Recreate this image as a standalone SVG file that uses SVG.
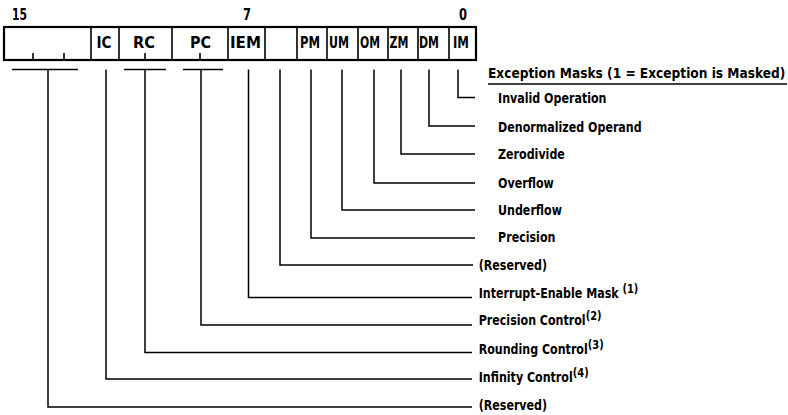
<svg xmlns="http://www.w3.org/2000/svg" width="788" height="415" viewBox="0 0 788 415">
<style>
text{font-family:"DejaVu Sans Condensed","Liberation Sans",sans-serif;font-weight:bold;fill:#000;font-size:14px}
.f{font-size:16px;text-anchor:middle}
.n{font-size:16px}
.reg{fill:none;stroke:#000;stroke-width:2.2}
.div{stroke:#000;stroke-width:1.6}
.c{fill:none;stroke:#000;stroke-width:1.5}
.sup{font-size:12.5px}
</style>
<rect width="788" height="415" fill="#fff"/>
<g id="bitnums">
<text class="n" x="12" y="20" textLength="15" lengthAdjust="spacingAndGlyphs">15</text>
<text class="n" x="243" y="20" textLength="8" lengthAdjust="spacingAndGlyphs">7</text>
<text class="n" x="459" y="20" textLength="8" lengthAdjust="spacingAndGlyphs">0</text>
</g>
<g id="register">
<rect class="reg" x="4" y="27" width="472" height="33"/>
<g id="f-reserved-hi"><line class="div" x1="33" y1="53" x2="33" y2="60"/><line class="div" x1="64" y1="53" x2="64" y2="60"/></g>
<g id="f-ic"><line class="div" x1="91" y1="27" x2="91" y2="60"/><text class="f" x="104" y="48" textLength="15" lengthAdjust="spacingAndGlyphs">IC</text></g>
<g id="f-rc"><line class="div" x1="119" y1="27" x2="119" y2="60"/><line class="div" x1="145" y1="53" x2="145" y2="60"/><text class="f" x="144" y="48" textLength="22" lengthAdjust="spacingAndGlyphs">RC</text></g>
<g id="f-pc"><line class="div" x1="172" y1="27" x2="172" y2="60"/><line class="div" x1="200" y1="53" x2="200" y2="60"/><text class="f" x="200.5" y="48" textLength="21" lengthAdjust="spacingAndGlyphs">PC</text></g>
<g id="f-iem"><line class="div" x1="228" y1="27" x2="228" y2="60"/><text class="f" x="245.5" y="48" textLength="31" lengthAdjust="spacingAndGlyphs">IEM</text></g>
<g id="f-reserved-6"><line class="div" x1="265" y1="27" x2="265" y2="60"/></g>
<g id="f-pm"><line class="div" x1="297" y1="27" x2="297" y2="60"/><text class="f" x="310" y="48" textLength="20" lengthAdjust="spacingAndGlyphs">PM</text></g>
<g id="f-um"><line class="div" x1="327" y1="27" x2="327" y2="60"/><text class="f" x="339" y="48" textLength="20" lengthAdjust="spacingAndGlyphs">UM</text></g>
<g id="f-om"><line class="div" x1="358" y1="27" x2="358" y2="60"/><text class="f" x="370" y="48" textLength="20" lengthAdjust="spacingAndGlyphs">OM</text></g>
<g id="f-zm"><line class="div" x1="388" y1="27" x2="388" y2="60"/><text class="f" x="399" y="48" textLength="19" lengthAdjust="spacingAndGlyphs">ZM</text></g>
<g id="f-dm"><line class="div" x1="418" y1="27" x2="418" y2="60"/><text class="f" x="429" y="48" textLength="20" lengthAdjust="spacingAndGlyphs">DM</text></g>
<g id="f-im"><line class="div" x1="449" y1="27" x2="449" y2="60"/><text class="f" x="461" y="48" textLength="16" lengthAdjust="spacingAndGlyphs">IM</text></g>
</g>
<g id="connectors">
<path class="c" d="M12 69.5H78M48 69.5V407H472"/>
<path class="c" d="M106 69.5V379H472"/>
<path class="c" d="M124 69.5H166M145 69.5V352.5H472"/>
<path class="c" d="M183 69.5H223M201 69.5V325H472"/>
<path class="c" d="M248.5 69.5V297.5H472"/>
<path class="c" d="M280 69.5V265H473"/>
<path class="c" d="M311 69.5V238H475"/>
<path class="c" d="M342 69.5V210H475"/>
<path class="c" d="M374 69.5V183H475"/>
<path class="c" d="M401 69.5V154H475"/>
<path class="c" d="M429 69.5V126H475"/>
<path class="c" d="M458 69.5V97.5H475"/>
<path class="c" d="M488 84H787"/>
</g>
<g id="labels" transform="scale(0.88 1)">
<text x="554.5" y="78" textLength="338" lengthAdjust="spacingAndGlyphs">Exception Masks (1 = Exception is Masked)</text>
<text x="566" y="103">Invalid Operation</text>
<text x="566" y="132">Denormalized Operand</text>
<text x="566" y="159">Zerodivide</text>
<text x="566" y="188">Overflow</text>
<text x="566" y="215">Underflow</text>
<text x="566" y="242">Precision</text>
<text x="544" y="270">(Reserved)</text>
<text x="544" y="298">Interrupt-Enable Mask <tspan class="sup" dy="-5">(1)</tspan></text>
<text x="544" y="325">Precision Control<tspan class="sup" dy="-5">(2)</tspan></text>
<text x="544" y="354">Rounding Control<tspan class="sup" dy="-5">(3)</tspan></text>
<text x="544" y="382">Infinity Control<tspan class="sup" dy="-5">(4)</tspan></text>
<text x="544" y="410">(Reserved)</text>
</g>
</svg>
